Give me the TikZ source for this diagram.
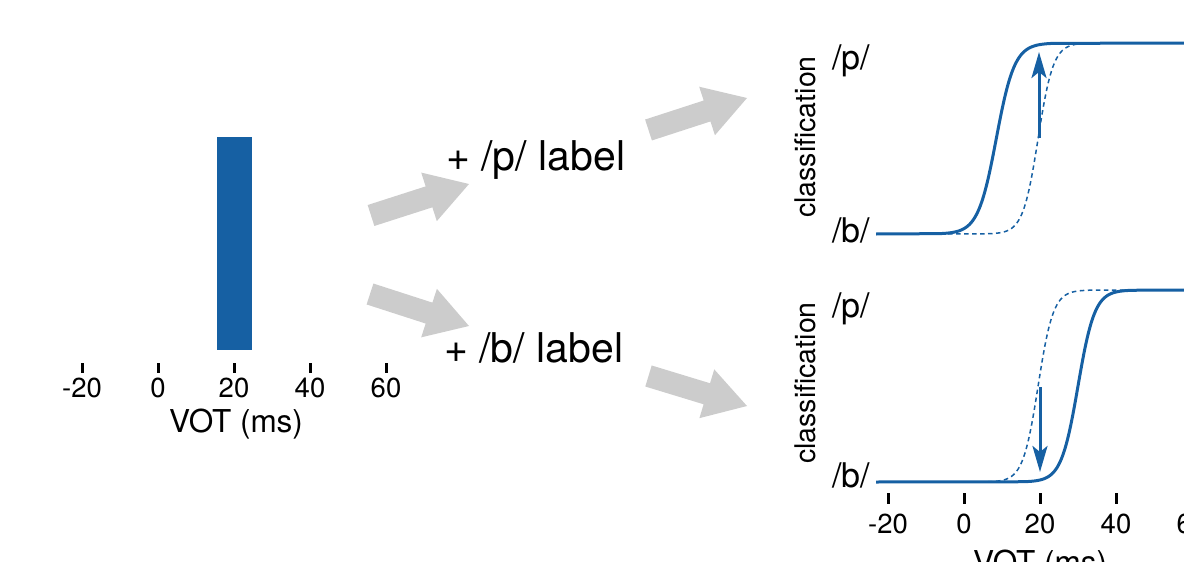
\documentclass[tikz,border=0pt]{standalone}
\usepackage{fontspec}
\setmainfont{TeX Gyre Heros}
\usetikzlibrary{arrows.meta,calc}
\definecolor{myblue}{RGB}{22,96,163}
\definecolor{arrowgray}{RGB}{204,204,204}
\newcommand{\fsz}[1]{\fontsize{#1}{#1}\selectfont}
\newcommand{\grayarrow}[2]{%
  \coordinate (#1h) at ($(#2)!42pt!(#1)$);
  \fill[arrowgray] ($(#1)!11pt!90:(#2)$) -- ($(#1h)!11pt!-90:(#1)$) -- ($(#1h)!25.5pt!-90:(#1)$) -- (#2)
    -- ($(#1h)!25.5pt!90:(#1)$) -- ($(#1h)!11pt!90:(#1)$) -- ($(#1)!11pt!-90:(#2)$) -- cycle;}
\begin{document}
\begin{tikzpicture}[x=1pt,y=-1pt,
  tickmark/.style={line width=3pt, black},
  ticklab/.style={anchor=base, inner sep=0pt, font=\fsz{27.5}},
  axlab/.style={anchor=base, inner sep=0pt, font=\fsz{31.5}},
  catlab/.style={anchor=base west, inner sep=0pt, font=\fsz{34}},
  ylab/.style={rotate=90, inner sep=0pt, font=\fsz{28.5}},
  steplab/.style={anchor=base west, inner sep=0pt, font=\fsz{41}},
  solidcurve/.style={myblue, line width=3pt},
  dashcurve/.style={myblue, line width=1.5pt, dash pattern=on 4.5pt off 3.5pt},
  shiftarrow/.style={myblue, line width=3pt, -{Stealth[length=26pt,width=15pt,inset=6pt]}}]
\useasboundingbox (0,0) rectangle (1184,562);
\clip (0,0) rectangle (1184,562);

% ---- left panel: stimulus
\node[fill=myblue, minimum width=35pt, minimum height=213pt, inner sep=0pt, outer sep=0pt] (bar) at (234.5,243.5) {};
\foreach \v in {-20,0,20,40,60}{
  \draw[tickmark] ({158+3.8*\v},363) -- ({158+3.8*\v},373);
  \node[ticklab] at ({158+3.8*\v},397) {\v};
}
\node[axlab] (votL) at (236,432) {VOT (ms)};

% ---- labels in the middle
\node[steplab] (plab) at (446,170) {+ /p/ label};
\node[steplab] (blab) at (444,362) {+ /b/ label};

% ---- gray arrows
\coordinate (a1t) at (371,215.5); \coordinate (a1e) at (469,184);
\coordinate (a2t) at (648.5,130); \coordinate (a2e) at (747,98);
\coordinate (a3t) at (370,294);   \coordinate (a3e) at (469,326);
\coordinate (a4t) at (648.5,376); \coordinate (a4e) at (747,406);
\grayarrow{a1t}{a1e}
\grayarrow{a2t}{a2e}
\grayarrow{a3t}{a3e}
\grayarrow{a4t}{a4e}

% ---- upper right panel (/p/ label)
\draw[dashcurve] (876,234) -- plot[domain=5.5:33.5, samples=90] ({964+3.8*\x},{234-191/(1+exp(-(\x-19.5)/2))}) -- (1200,43);
\draw[solidcurve] (876,234) -- plot[domain=-6.5:23.5, samples=90] ({964+3.8*\x},{234-191/(1+exp(-(\x-8.5)/2.4))}) -- (1200,43);
\coordinate (u1) at (1039,138); \coordinate (u2) at (1039,52);
\draw[shiftarrow] (u1) -- (u2);
\node[catlab] (p1) at (832,69) {/p/};
\node[catlab] (b1) at (832,242) {/b/};
\node[ylab] (c1) at (805,137) {classification};

% ---- lower right panel (/b/ label)
\draw[dashcurve] (876,482) -- plot[domain=5.5:33.5, samples=90] ({964+3.8*\x},{482-192/(1+exp(-(\x-19.5)/2))}) -- (1200,290);
\draw[solidcurve] (876,482) -- plot[domain=15.5:44.5, samples=90] ({964+3.8*\x},{482-192/(1+exp(-(\x-30)/2.2))}) -- (1200,290);
\coordinate (d1) at (1040,387); \coordinate (d2) at (1040,472);
\draw[shiftarrow] (d1) -- (d2);
\node[catlab] (p2) at (832,317) {/p/};
\node[catlab] (b2) at (832,487) {/b/};
\node[ylab] (c2) at (805,383) {classification};
\foreach \v in {-20,0,20,40,60}{
  \draw[tickmark] ({964+3.8*\v},493) -- ({964+3.8*\v},504);
  \node[ticklab] at ({964+3.8*\v},533) {\v};
}
\node[axlab] (votR) at (1040,573) {VOT (ms)};
\end{tikzpicture}
\end{document}
